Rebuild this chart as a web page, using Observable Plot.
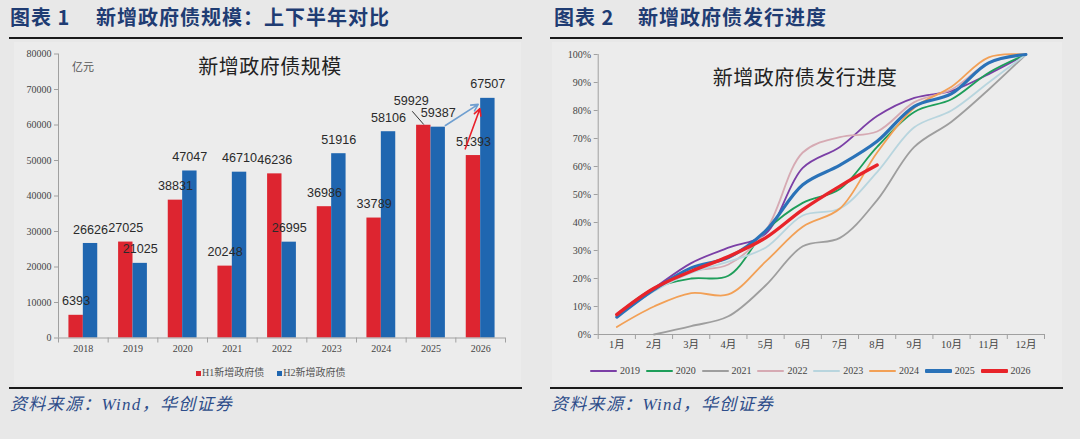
<!DOCTYPE html>
<html>
<head>
<meta charset="utf-8">
<script src="https://cdn.jsdelivr.net/npm/d3@7"></script>
<script src="https://cdn.jsdelivr.net/npm/@observablehq/plot@0.6"></script>
<style>
  html, body { margin: 0; padding: 0; }
  body { width: 1080px; height: 439px; background: #e8e8e8; position: relative; overflow: hidden;
         font-family: "Noto Sans CJK SC", sans-serif; }
  .panel-bg { position: absolute; background: #ececec; }
  .hdr { position: absolute; top: 4px; height: 26px; line-height: 26px; font-size: 20px; font-weight: 700;
         color: #1f3c73; white-space: nowrap; letter-spacing: 1px; }
  .rule { position: absolute; height: 2px; background: #1a1a1a; }
  .src { position: absolute; top: 393px; height: 24px; line-height: 24px; font-size: 17px; font-style: italic;
         color: #2e4d8a; white-space: nowrap; letter-spacing: 1.3px; font-family: "Liberation Serif", "Noto Sans CJK SC", serif; }
  .chart { position: absolute; }
  .intitle { position: absolute; font-size: 20px; color: #222; white-space: nowrap; transform: translate(-50%, -50%);
             font-family: "Noto Sans CJK SC", sans-serif; letter-spacing: 0.5px; }
  .unit { position: absolute; font-size: 11px; color: #555; white-space: nowrap; }
  .legend { position: absolute; height: 14px; line-height: 14px; font-size: 10px; color: #555; white-space: nowrap;
            font-family: "Liberation Serif", "Noto Sans CJK SC", serif; display: flex; align-items: center; }
  .sq { display: inline-block; width: 5px; height: 5px; margin-right: 1px; }
  .litem { display: flex; align-items: center; width: 55.8px; }
  .sw { display: inline-block; width: 27px; margin-right: 3px; border-radius: 1px; }
</style>
</head>
<body>
<div class="panel-bg" style="left:14px;top:42px;width:507px;height:343px;"></div>
<div class="panel-bg" style="left:552px;top:42px;width:510px;height:343px;"></div>

<div class="hdr" style="left:10px;">图表 1</div>
<div class="hdr" style="left:96px;">新增政府债规模：上下半年对比</div>
<div class="hdr" style="left:554px;">图表 2</div>
<div class="hdr" style="left:638px;">新增政府债发行进度</div>

<div class="rule" style="left:9px;top:37px;width:513px;"></div>
<div class="rule" style="left:550px;top:37px;width:513px;"></div>
<div class="rule" style="left:9px;top:387px;width:513px;"></div>
<div class="rule" style="left:550px;top:387px;width:513px;"></div>

<div class="src" style="left:10px;">资料来源：Wind，华创证券</div>
<div class="src" style="left:551px;">资料来源：Wind，华创证券</div>

<div id="left" class="chart" style="left:14px;top:42px;"></div>
<div id="right" class="chart" style="left:552px;top:42px;"></div>

<div class="intitle" style="left:270px;top:65px;">新增政府债规模</div>
<div class="unit" style="left:72px;top:58px;">亿元</div>
<div class="intitle" style="left:805px;top:76px;">新增政府债发行进度</div>

<div id="legendL" class="legend" style="left:196px;top:366px;"></div>
<div id="legendR" class="legend" style="left:590px;top:364px;"></div>

<script>
// ---------- Chart 1 data ----------
const years = [2018, 2019, 2020, 2021, 2022, 2023, 2024, 2025, 2026];
const h1Values = [6393, 27025, 38831, 20248, 46236, 36986, 33789, 59929, 51393];
const h2Values = [26626, 21025, 47047, 46710, 26995, 51916, 58106, 59387, 67507];
const yTicksL = [0, 10000, 20000, 30000, 40000, 50000, 60000, 70000, 80000];
const seriesNamesL = ["H1新增政府债", "H2新增政府债"];

// ---------- Chart 2 data ----------
const months = [1, 2, 3, 4, 5, 6, 7, 8, 9, 10, 11, 12];
const monthLabels = ["1月","2月","3月","4月","5月","6月","7月","8月","9月","10月","11月","12月"];
const yTicksR = [0, 10, 20, 30, 40, 50, 60, 70, 80, 90, 100];
const lineYears = ["2019","2020","2021","2022","2023","2024","2025","2026"];
const p2019 = [7, 16.5, 25.5, 31, 36, 59.5, 67, 78, 84.5, 87, 93, 100];
const p2020 = [7, 16.5, 20, 21, 37, 47, 52, 67, 79.5, 84, 93.5, 100];
const p2021 = [null, 0, 3, 6.5, 17.5, 31.5, 34.5, 48, 67, 76, 87.5, 100];
const p2022 = [7.5, 16, 22.5, 25, 37, 65, 70.5, 72.5, 83, 87.5, 97, 100];
const p2023 = [7, 15.5, 22, 26, 31, 42.5, 45, 58, 74, 80, 90, 100];
const p2024 = [2.7, 10, 14.8, 14.3, 26, 38.5, 45, 65, 81, 88.5, 99, 100];
const p2025 = [6.2, 16, 23.8, 27.5, 37, 53.5, 60.5, 69, 81.5, 86, 97, 100];
const p2026 = [7.1, 16.5, 22.6, 27.8, 34.5, 44.6, 53, 60.5];

const RED = "#dd2530", BLUE = "#1f66b0";
const lineColors = ["#7b3fa6", "#1e9e5a", "#9e9e9e", "#d6aab3", "#b8d5de", "#f2a056", "#2a72b8", "#e8242a"];
const lineWidths = [1.8, 1.8, 1.8, 1.8, 1.8, 1.8, 3.2, 3.4];
const lineData = [p2019, p2020, p2021, p2022, p2023, p2024, p2025, p2026];

const axisColor = "#a0a0a0";
const tickFont = "Liberation Serif, Noto Sans CJK SC, serif";

// ---------- Chart 1 ----------
const BW = 0.29; // bar width in category units
const barRows = years.map((y, i) => ({year: y, h1: h1Values[i], h2: h2Values[i]}));
const boundariesL = d3.range(2017.5, 2026.6, 1);
const i25 = years.indexOf(2025), i26 = years.indexOf(2026);
const leader = [{x1: 2025 - BW/2 - 0.233, y1: h1Values[i25] + 3940, x2: 2025 - BW/2, y2: h1Values[i25] + 200}];
const arrowsL = [
  {x1: 2025 + BW, y1: h2Values[i25] + 470, x2: 2026 - 0.05, y2: 65800, color: "#6f9fd0"},
  {x1: 2026 - BW - 0.02, y1: h1Values[i26] + 1900, x2: 2026 - 0.015, y2: 64600, color: "#e8202a"}
];
const labelStyle = {fill: "#2a2a2a", fontSize: 12.6, fontFamily: "Liberation Sans, Arial, sans-serif", lineAnchor: "middle"};

const left = Plot.plot({
  width: 506, height: 318,
  marginLeft: 44, marginRight: 15, marginTop: 11.5, marginBottom: 22.5,
  x: {domain: [2017.5, 2026.5], axis: null},
  y: {domain: [0, 80000], axis: null},
  style: {background: "transparent", overflow: "visible", fontFamily: tickFont},
  marks: [
    Plot.rectY(barRows, {x1: d => d.year - BW, x2: d => d.year, y: "h1", fill: RED}),
    Plot.rectY(barRows, {x1: d => d.year, x2: d => d.year + BW, y: "h2", fill: BLUE}),
    Plot.ruleY([0], {stroke: axisColor, strokeWidth: 1}),
    Plot.ruleX([2017.5], {stroke: axisColor, strokeWidth: 1}),
    Plot.axisY({ticks: yTicksL, tickSize: 4, tickPadding: 3, tickFormat: d => String(d), stroke: axisColor,
                fill: "#444", fontSize: 10, label: null}),
    Plot.axisX({ticks: boundariesL, tickSize: 5, tickFormat: () => "", stroke: axisColor, label: null}),
    Plot.axisX({ticks: years, tickSize: 0, tickPadding: 7, tickFormat: d => String(d), fill: "#444",
                fontSize: 10, label: null}),
    Plot.text(barRows.filter(d => d.year !== 2025), {x: d => d.year - BW/2, y: "h1", text: d => String(d.h1), dy: -14, ...labelStyle}),
    Plot.text(barRows.filter(d => d.year === 2025), {x: d => d.year - BW/2, y: "h1", text: d => String(d.h1), dx: -12.5, dy: -24.7, ...labelStyle}),
    Plot.text(barRows, {x: d => d.year + BW/2, y: "h2", text: d => String(d.h2), dy: -14, ...labelStyle}),
    Plot.link(leader, {x1: "x1", y1: "y1", x2: "x2", y2: "y2", stroke: "#333", strokeWidth: 1}),
    Plot.arrow(arrowsL, {x1: "x1", y1: "y1", x2: "x2", y2: "y2", stroke: "color", strokeWidth: 1.6,
                         headLength: 7, headAngle: 55, bend: 0})
  ]
});
document.getElementById("left").appendChild(left);

// ---------- Chart 2 ----------
const boundariesR = d3.range(0.5, 12.6, 1);
const lineMarks = lineData.map((arr, k) =>
  Plot.line(arr.map((v, i) => ({m: months[i], v})).filter(d => d.v != null),
            {x: "m", y: "v", stroke: lineColors[k], strokeWidth: lineWidths[k], curve: "catmull-rom"}));

const right = Plot.plot({
  width: 510, height: 318,
  marginLeft: 45.7, marginRight: 18, marginTop: 12, marginBottom: 26,
  x: {domain: [0.5, 12.5], axis: null},
  y: {domain: [0, 100], axis: null},
  style: {background: "transparent", overflow: "visible", fontFamily: tickFont},
  marks: [
    Plot.ruleY([0], {stroke: axisColor, strokeWidth: 1}),
    Plot.ruleX([0.5], {stroke: axisColor, strokeWidth: 1}),
    Plot.axisY({ticks: yTicksR, tickSize: 4, tickPadding: 3, tickFormat: d => d + "%", stroke: axisColor,
                fill: "#444", fontSize: 10, label: null}),
    Plot.axisX({ticks: boundariesR, tickSize: 5, tickFormat: () => "", stroke: axisColor, label: null}),
    Plot.axisX({ticks: months, tickSize: 0, tickPadding: 6, tickFormat: d => monthLabels[d - 1], fill: "#444",
                fontSize: 10.5, label: null}),
    ...lineMarks
  ]
});
document.getElementById("right").appendChild(right);

// ---------- Legends ----------
const legL = document.getElementById("legendL");
[RED, BLUE].forEach((c, i) => {
  const it = document.createElement("span");
  it.style.display = "flex"; it.style.alignItems = "center";
  it.style.marginRight = i === 0 ? "13px" : "0";
  it.innerHTML = `<span class="sq" style="background:${c}"></span>${seriesNamesL[i]}`;
  legL.appendChild(it);
});
const legR = document.getElementById("legendR");
lineYears.forEach((y, k) => {
  const it = document.createElement("span");
  it.className = "litem";
  const h = lineWidths[k] > 2 ? 3.5 : 2;
  it.innerHTML = `<span class="sw" style="height:${h}px;background:${lineColors[k]}"></span><span style="color:#444">${y}</span>`;
  legR.appendChild(it);
});
</script>
</body>
</html>
